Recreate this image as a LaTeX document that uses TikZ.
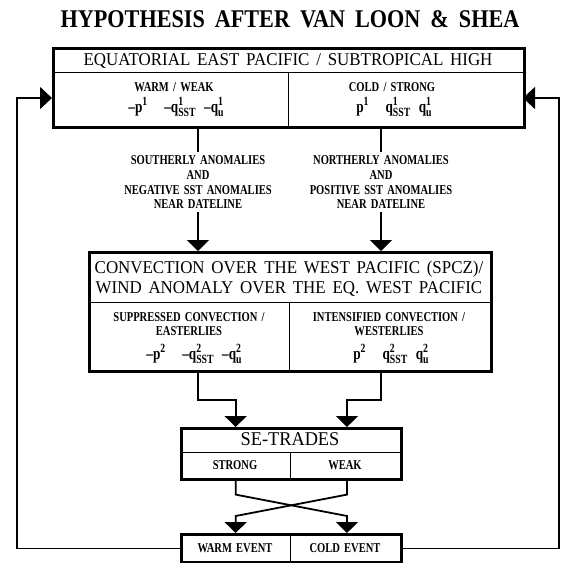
\documentclass[tikz,border=0pt]{standalone}
\usepackage{fontspec}
\setmainfont{Liberation Serif}
\newfontfamily\titlef[FakeStretch=0.87,WordSpace=1.8]{Liberation Serif Bold}
\newfontfamily\headf[FakeStretch=0.94,WordSpace=1.6]{Liberation Serif}
\newfontfamily\smallf[FakeStretch=0.78,WordSpace=1.6]{Liberation Serif}
\usetikzlibrary{arrows.meta,calc}
\newcommand\supx[1]{\raisebox{0.4em}{\fontsize{12.5}{12.5}\selectfont #1}}
\newcommand\supsubx[2]{\rlap{\raisebox{0.4em}{\fontsize{12.5}{12.5}\selectfont #1}}\raisebox{-0.25em}{\fontsize{12.5}{12.5}\selectfont #2}}
\tikzset{
  frame/.style={draw, line width=2.6pt, inner sep=0pt, anchor=north west},
  divider/.style={line width=0.9pt},
  conn/.style={line width=1.8pt},
  fb/.style={line width=1.4pt},
  arrdown/.style={-{Triangle[length=11pt,width=22pt]}},
  arrside/.style={-{Triangle[length=12pt,width=22pt]}},
  titletxt/.style={font=\titlef\fontsize{25.5}{26}\selectfont, inner sep=0pt, anchor=base},
  headtxt/.style={font=\headf\fontsize{18}{20}\selectfont, inner sep=0pt, align=center},
  smalltxt/.style={font=\smallf\bfseries\fontsize{13.5}{13.5}\selectfont, inner sep=0pt, align=center},
  formula/.style={font=\smallf\bfseries\fontsize{17}{18}\selectfont, inner sep=0pt, anchor=base},
  gaptxt/.style={font=\smallf\bfseries\fontsize{13.5}{14.7}\selectfont, inner sep=3.5pt, align=center, anchor=north},
}
\begin{document}
\begin{tikzpicture}[x=1pt,y=-1pt]
\fill[white] (0,0) rectangle (562,563);
\useasboundingbox (0,0) rectangle (562,563);

% title
\node[titletxt] (title) at (290,27) {HYPOTHESIS AFTER VAN LOON \& SHEA};

% top box
\node[frame, minimum width=471pt, minimum height=79pt] (top) at (52,47) {};
\draw[divider] (52,72) -- (523,72);
\draw[divider] (288,72) -- (288,126);
\node[headtxt, anchor=base] (toph) at (288,65) {EQUATORIAL EAST PACIFIC / SUBTROPICAL HIGH};
\node[smalltxt, anchor=base] (tlt) at (174,91) {WARM / WEAK};
\node[formula] (tlf) at (176,112) {–p\supx{1}\enspace\enspace –q\supsubx{1}{SST}\enspace –q\supsubx{1}{u}};
\node[smalltxt, anchor=base] (trt) at (392,91) {COLD / STRONG};
\node[formula] (trf) at (394,112) {p\supx{1}\quad q\supsubx{1}{SST}\enspace q\supsubx{1}{u}};

% text between top and middle
\node[gaptxt] (gl) at (198,152) {SOUTHERLY ANOMALIES\\AND\\NEGATIVE SST ANOMALIES\\NEAR DATELINE};
\node[gaptxt] (gr) at (381,152) {NORTHERLY ANOMALIES\\AND\\POSITIVE SST ANOMALIES\\NEAR DATELINE};

% middle box
\node[frame, minimum width=402pt, minimum height=119pt] (mid) at (88,251) {};
\draw[divider] (88,302) -- (490,302);
\draw[divider] (289,302) -- (289,370);
\node[headtxt, anchor=north] (midh) at (289,261) {CONVECTION OVER THE WEST PACIFIC (SPCZ)/\\WIND ANOMALY OVER THE EQ. WEST PACIFIC};
\node[smalltxt, anchor=north] (mlt) at (189,312.5) {SUPPRESSED CONVECTION /\\EASTERLIES};
\node[formula] (mlf) at (194,359) {–p\supx{2}\enspace\enspace –q\supsubx{2}{SST}\enspace –q\supsubx{2}{u}};
\node[smalltxt, anchor=north] (mrt) at (389,312.5) {INTENSIFIED CONVECTION /\\WESTERLIES};
\node[formula] (mrf) at (391,359) {p\supx{2}\quad q\supsubx{2}{SST}\enspace q\supsubx{2}{u}};

% SE-trades box
\node[frame, minimum width=220pt, minimum height=51pt] (se) at (180,427) {};
\draw[divider] (180,452) -- (400,452);
\draw[divider] (290,452) -- (290,478);
\node[headtxt, anchor=base, font=\headf\fontsize{19.5}{20}\selectfont] (seh) at (290,445.5) {SE-TRADES};
\node[smalltxt, anchor=base] (ses) at (235,469.5) {STRONG};
\node[smalltxt, anchor=base] (sew) at (345,469.5) {WEAK};

% events box
\node[frame, minimum width=220pt, minimum height=28pt] (ev) at (180,533) {};
\draw[divider] (290,533) -- (290,561);
\node[smalltxt, anchor=base] (evw) at (235,552.5) {WARM EVENT};
\node[smalltxt, anchor=base] (evc) at (345,552.5) {COLD EVENT};

% connectors top -> middle
\draw[conn] (gl.north |- top.south) -- (gl.north);
\draw[conn] (gr.north |- top.south) -- (gr.north);
\draw[conn, arrdown] (gl.south) -- (gl.south |- mid.north);
\draw[conn, arrdown] (gr.south) -- (gr.south |- mid.north);

% middle -> SE-trades
\draw[conn, arrdown] (gl.south |- mid.south) -- ++(0,27) -| ($(se.north west)!0.25!(se.north east)$);
\draw[conn, arrdown] (gr.south |- mid.south) -- ++(0,27) -| ($(se.north west)!0.75!(se.north east)$);

% SE-trades -> events (crossing)
\draw[conn, arrdown] ($(se.south west)!0.25!(se.south east)$) -- ++(0,14)
  -- ($(ev.north west)!0.75!(ev.north east)+(0,-17)$) -- ($(ev.north west)!0.75!(ev.north east)$);
\draw[conn, arrdown] ($(se.south west)!0.75!(se.south east)$) -- ++(0,14)
  -- ($(ev.north west)!0.25!(ev.north east)+(0,-17)$) -- ($(ev.north west)!0.25!(ev.north east)$);

% feedback loops
\coordinate (fl) at (52,98);
\coordinate (fr) at (523,98);
\draw[fb, arrside] (ev.west) -| (17,98) -- (fl);
\draw[fb, arrside] (ev.east) -| (559,98) -- (fr);
\end{tikzpicture}
\end{document}
